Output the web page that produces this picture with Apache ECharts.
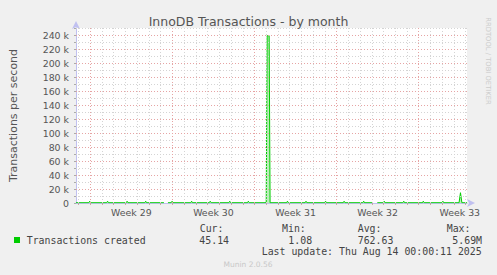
<!DOCTYPE html>
<html>
<head>
<meta charset="utf-8">
<script src="https://cdn.jsdelivr.net/npm/echarts@6/dist/echarts.min.js"></script>
<style>
html,body{margin:0;padding:0;background:#f0f0f0;}
#c{width:497px;height:275px;}
</style>
</head>
<body>
<div id="c"></div>
<script>
// ---- data (x in days, 0 = start of Week 29) ----
var sampleDays = [-1.22,
  -0.13,-0.05,0.03, 1.39,1.475,1.56, 3.06,3.14,3.22, 4.64,4.725,4.81,
  6.28,6.45,6.62,
  6.89,6.975,7.06, 8.56,8.64,8.72, 10.14,10.225,10.31, 11.81,11.89,11.97, 13.39,13.475,13.56,
  15.0,15.08,15.25,15.33,
  16.73,16.81,16.89, 18.31,18.39,18.47, 19.98,20.06,20.14, 21.56,21.64,21.72, 23.23,23.31,23.39,
  24.03,24.25,24.47,
  24.98,25.06,25.14, 26.64,26.725,26.81, 28.31,28.39,28.47, 29.98,30.06,30.14,
  31.44,31.56,31.68, 32.12];
var sampleValues = [400,
  400,2500,400, 400,2500,400, 400,2500,400, 400,2500,400,
  400,null,400,
  400,2500,400, 400,2500,400, 400,2500,400, 400,2500,400, 400,2500,400,
  400,239000,239000,400,
  400,2500,400, 400,2500,400, 400,2500,400, 400,2500,400, 400,2500,400,
  400,null,400,
  400,2500,400, 400,2500,400, 400,2500,400, 400,2500,400,
  400,14700,400, 400];
var weekLabelDays = [3.5, 10.5, 17.5, 24.5, 31.5];
var weekLabels = ['Week 29', 'Week 30', 'Week 31', 'Week 32', 'Week 33'];
var dayLines = [-1,0,1,2,3,4,5,6,7,8,9,10,11,12,13,14,15,16,17,18,19,20,21,22,23,24,25,26,27,28,29,30,31,32];
var weekLines = [0, 7, 14, 21, 28];
var majorY = [20000,40000,60000,80000,100000,120000,140000,160000,180000,200000,220000,240000];
var minorY = [10000,30000,50000,70000,90000,110000,130000,150000,170000,190000,210000,230000,250000];
var seriesName = 'Transactions created';
var statHeaders = ['Cur:', 'Min:', 'Avg:', 'Max:'];
var statValues = ['45.14', '1.08', '762.63', '5.69M'];
var lastUpdate = 'Last update: Thu Aug 14 00:00:11 2025';

var data = sampleDays.map(function (d, i) { return [d, sampleValues[i]]; });

var chart = echarts.init(document.getElementById('c'), null, {renderer: 'svg'});
var mono = 'DejaVu Sans Mono';
var sans = 'DejaVu Sans';
var minorColor = '#d4d4d4';
var majorColor = '#e6a4a4';

var statHeadX = [199.7, 282, 357.7, 446.7];
var statValX = [199.3, 288.3, 357.7, 452.3];
var graphics = [
  {type: 'rect', shape: {x: 14, y: 237, width: 6, height: 6}, style: {fill: '#00cc00'}},
  {type: 'text', x: 26.7, y: 240, style: {text: seriesName, font: '9.9px ' + mono, fill: '#444', verticalAlign: 'middle'}},
  {type: 'text', x: 261.7, y: 251.5, style: {text: lastUpdate, font: '9.9px ' + mono, fill: '#444', verticalAlign: 'middle'}},
  {type: 'text', x: 248, y: 264.5, style: {text: 'Munin 2.0.56', font: '7.5px ' + sans, fill: '#c8c8c8', align: 'center', verticalAlign: 'middle'}},
  {type: 'text', x: 487.5, y: 61, rotation: -Math.PI / 2, style: {text: 'RRDTOOL / TOBI OETIKER', font: '6.8px ' + sans, fill: '#cccccc', align: 'center', verticalAlign: 'middle'}}
];
statHeaders.forEach(function (h, i) {
  graphics.push({type: 'text', x: statHeadX[i], y: 228.5, style: {text: h, font: '9.9px ' + mono, fill: '#444', verticalAlign: 'middle'}});
  graphics.push({type: 'text', x: statValX[i], y: 240, style: {text: statValues[i], font: '9.9px ' + mono, fill: '#444', verticalAlign: 'middle'}});
});

var gridLines = [];
dayLines.forEach(function (d) {
  if (weekLines.indexOf(d) < 0) gridLines.push({xAxis: d, lineStyle: {color: minorColor, type: [1, 2], width: 1}});
});
minorY.forEach(function (v) {
  gridLines.push({yAxis: v, lineStyle: {color: minorColor, type: [1, 2], width: 1}});
});
weekLines.forEach(function (d) {
  gridLines.push({xAxis: d, lineStyle: {color: majorColor, type: [1, 2], width: 1}});
});
majorY.forEach(function (v) {
  gridLines.push({yAxis: v, lineStyle: {color: majorColor, type: [1, 2], width: 1}});
});

chart.setOption({
  animation: false,
  backgroundColor: '#f0f0f0',
  title: {
    text: 'InnoDB Transactions - by month',
    left: 'center', top: 10,
    textStyle: {fontFamily: sans, fontSize: 12.5, fontWeight: 'normal', color: '#555'}
  },
  grid: {left: 67, right: 30, top: 28, bottom: 72, show: true, backgroundColor: '#ffffff', borderWidth: 0},
  xAxis: {
    type: 'value', min: -1.2167, max: 32.1167,
    axisLine: {show: true, onZero: false, lineStyle: {color: '#c0c0f0', width: 1}, symbol: ['none', 'arrow'], symbolSize: [6, 8], symbolOffset: [0, 8]},
    axisTick: {show: true, customValues: dayLines, length: 2, lineStyle: {color: '#c8a8a8'}},
    axisLabel: {
      customValues: weekLabelDays, margin: 5,
      fontFamily: sans, fontSize: 9.4, color: '#555',
      formatter: function (v) { var i = weekLabelDays.indexOf(v); return i >= 0 ? weekLabels[i] : ''; }
    },
    splitLine: {show: false}
  },
  yAxis: {
    type: 'value', min: 0, max: 250000, interval: 10000,
    name: 'Transactions per second', nameLocation: 'middle', nameGap: 57,
    nameTextStyle: {fontFamily: sans, fontSize: 11, color: '#555'},
    axisLine: {show: true, onZero: false, lineStyle: {color: '#c0c0f0', width: 1}, symbol: ['none', 'arrow'], symbolSize: [6, 8], symbolOffset: [0, 7]},
    axisTick: {show: true, length: 2, lineStyle: {color: '#aaaaaa'}},
    axisLabel: {
      margin: 7, fontFamily: sans, fontSize: 9.4, color: '#555',
      formatter: function (v) {
        if (v % 20000 !== 0) return '';
        return v === 0 ? '0' : (v / 1000) + ' k';
      }
    },
    splitLine: {show: false}
  },
  graphic: graphics,
  series: [
    {
      type: 'line', data: [], silent: true, z: 1,
      markLine: {silent: true, symbol: ['none', 'none'], label: {show: false}, data: gridLines, animation: false}
    },
    {
      name: seriesName, type: 'line', data: data, z: 3,
      showSymbol: false, connectNulls: false,
      lineStyle: {color: '#00cc00', width: 1},
      itemStyle: {color: '#00cc00'},
      areaStyle: {color: 'rgba(0,204,0,0.4)'}
    }
  ]
});
</script>
</body>
</html>
